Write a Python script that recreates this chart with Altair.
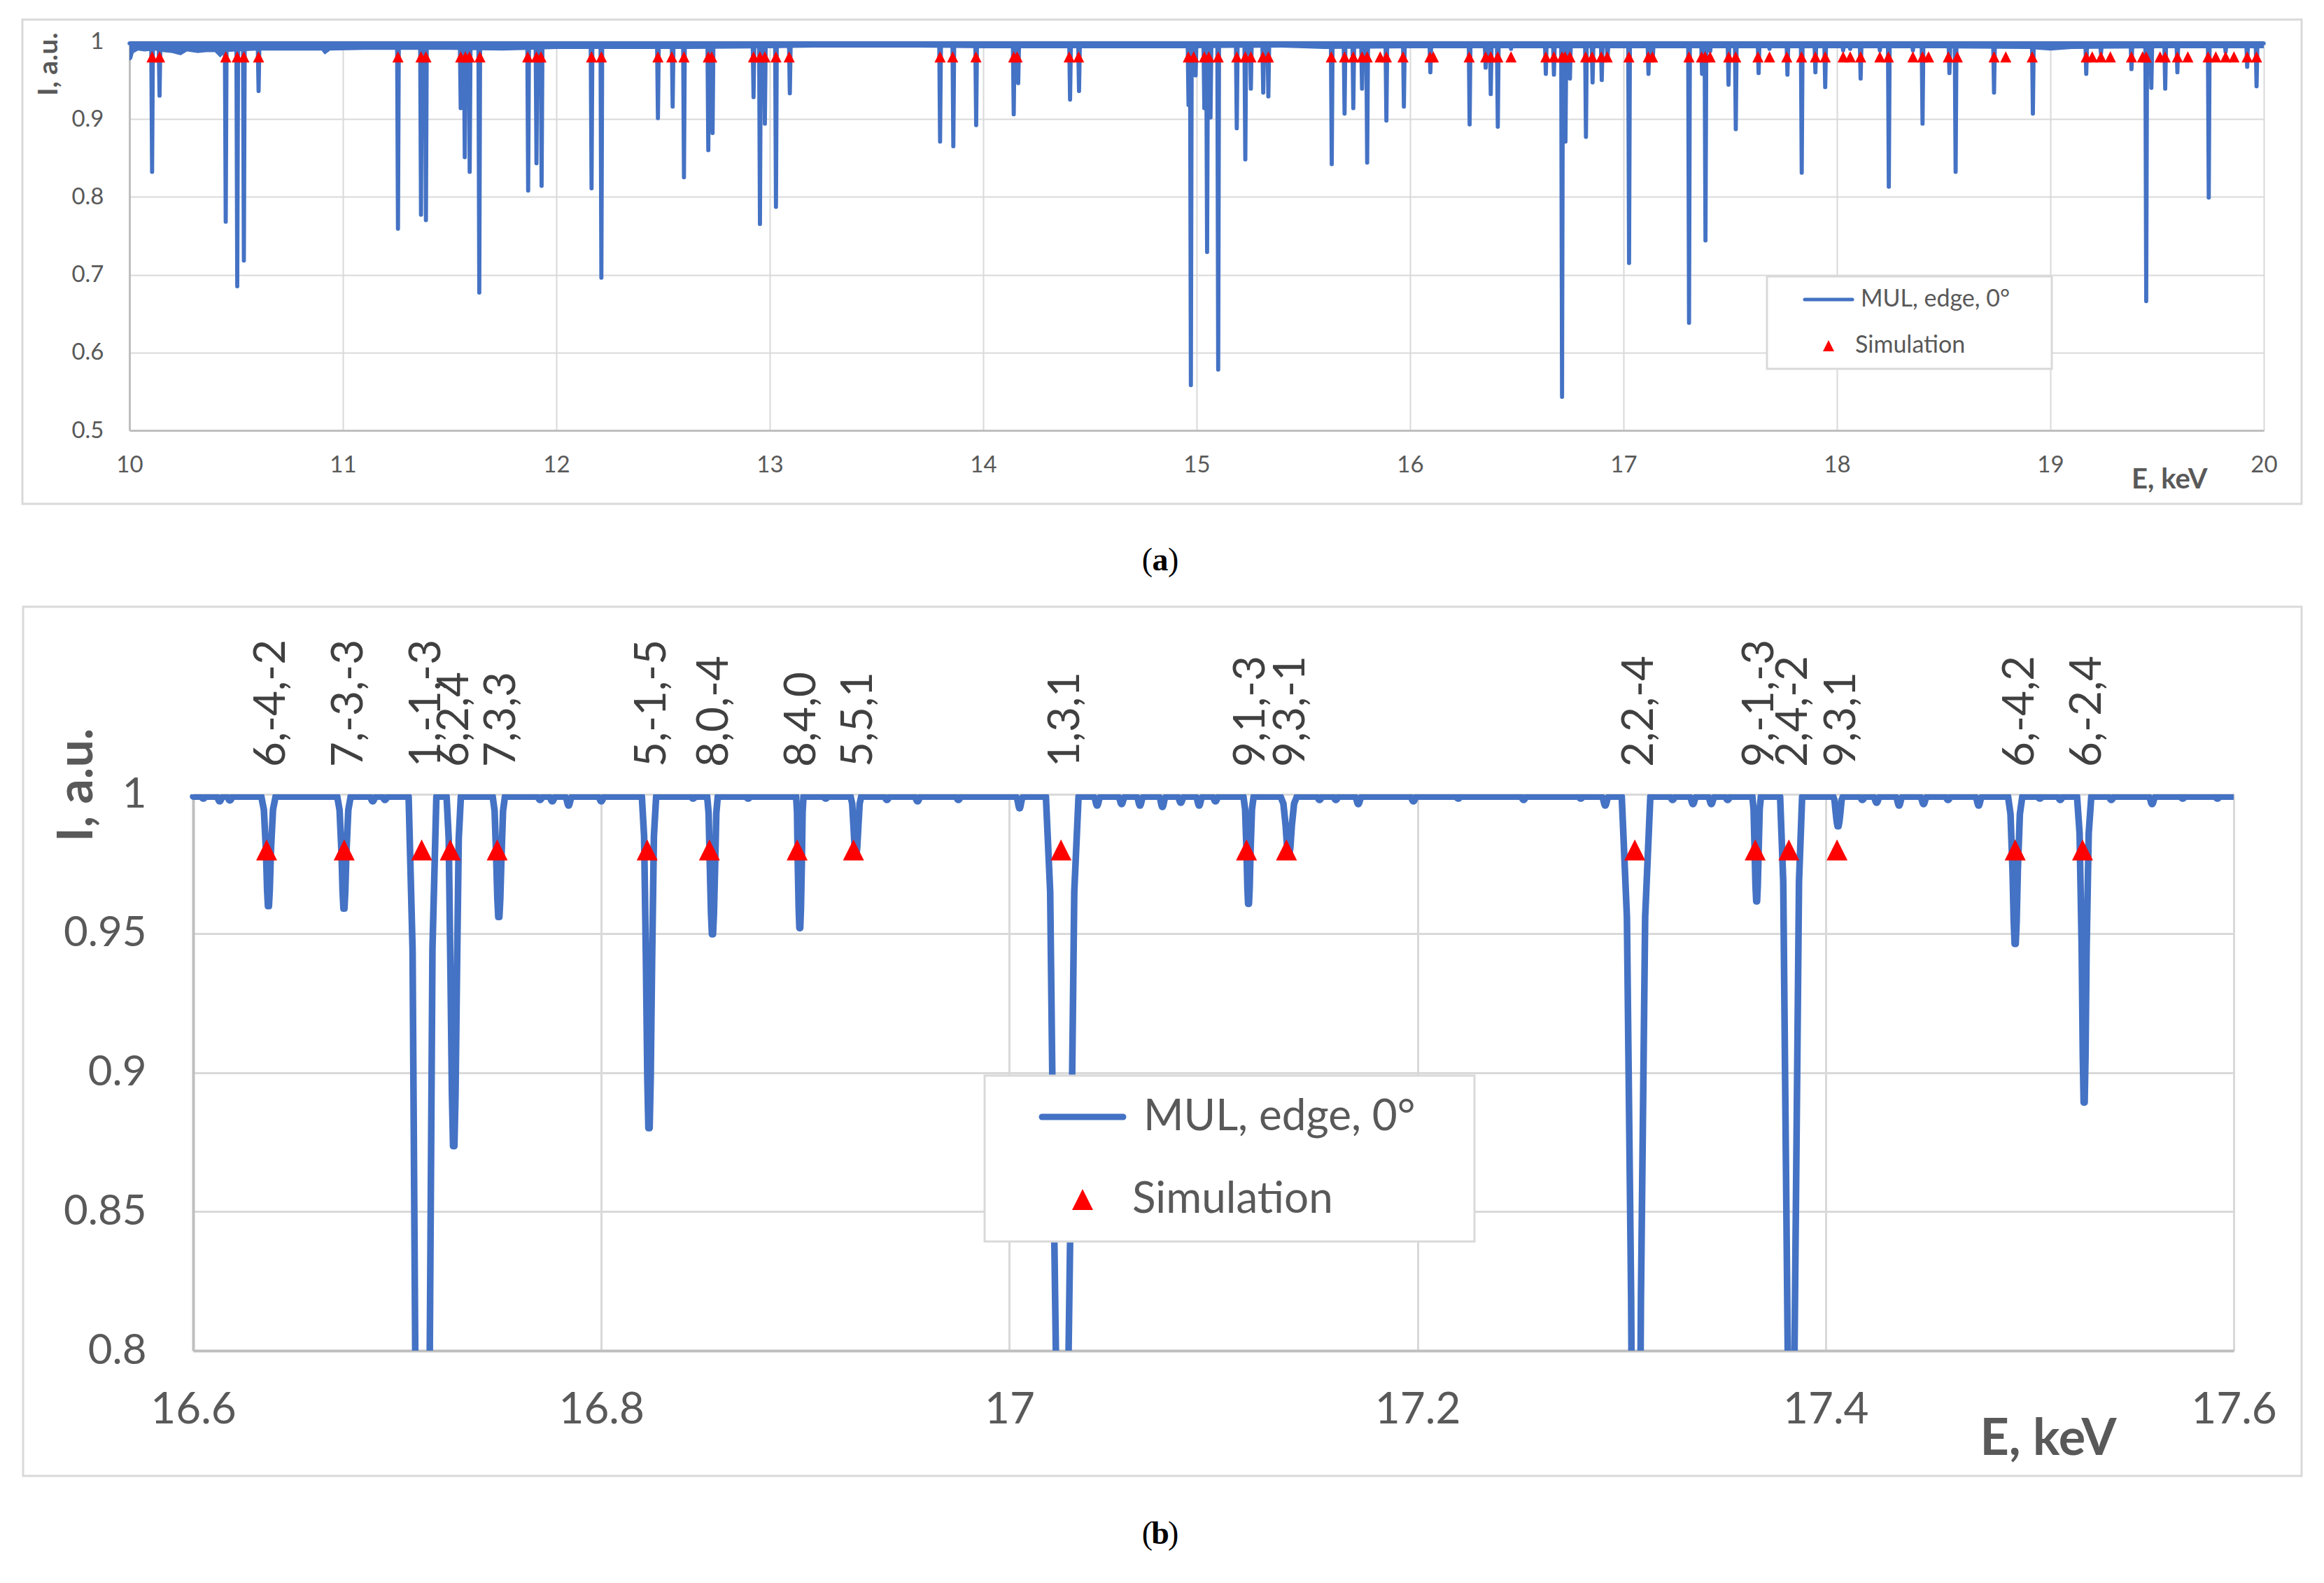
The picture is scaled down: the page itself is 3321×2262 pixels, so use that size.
import altair as alt
import pandas as pd

BLUE = "#4472C4"
RED = "#FF0000"
GRID = "#D9D9D9"
AXISC = "#BFBFBF"
TXT = "#595959"
LBL = "#404040"
FONT = "Lato"
SERIF = "Liberation Serif"
TRI = "M0,-1L1,1L-1,1Z"

# ---------------- panel (a): measured dips (energy keV, minimum intensity) -------------
a_dip_E = [10.106, 10.141, 10.451, 10.505, 10.536, 10.605, 11.258, 11.366, 11.389, 11.552,
           11.571, 11.594, 11.639, 11.868, 11.907, 11.931, 12.165, 12.211, 12.476, 12.545,
           12.598, 12.712, 12.732, 12.924, 12.954, 12.977, 13.029, 13.094, 13.798, 13.860,
           13.967, 14.143, 14.164, 14.407, 14.449, 14.962, 14.973, 14.995, 15.036, 15.049,
           15.065, 15.101, 15.188, 15.228, 15.254, 15.312, 15.336, 15.633, 15.693, 15.734,
           15.775, 15.799, 15.889, 15.971, 16.095, 16.279, 16.354, 16.378, 16.411, 16.473,
           16.636, 16.674, 16.712, 16.728, 16.749, 16.824, 16.855, 16.898, 16.925, 17.026,
           17.117, 17.137, 17.307, 17.368, 17.384, 17.406, 17.492, 17.526, 17.633, 17.684,
           17.768, 17.835, 17.899, 17.945, 18.029, 18.062, 18.111, 18.201, 18.243, 18.356,
           18.401, 18.527, 18.556, 18.736, 18.918, 19.168, 19.237, 19.380, 19.449, 19.473,
           19.538, 19.595, 19.742, 19.821, 19.922, 19.966]
a_dip_I = [0.832, 0.930, 0.768, 0.685, 0.718, 0.936, 0.759, 0.777, 0.770, 0.914,
           0.851, 0.832, 0.677, 0.808, 0.843, 0.814, 0.811, 0.696, 0.901, 0.916,
           0.825, 0.860, 0.882, 0.928, 0.765, 0.894, 0.787, 0.933, 0.871, 0.865,
           0.892, 0.906, 0.946, 0.925, 0.936, 0.918, 0.558, 0.956, 0.914, 0.729,
           0.902, 0.578, 0.888, 0.848, 0.939, 0.934, 0.929, 0.842, 0.907, 0.914,
           0.939, 0.844, 0.898, 0.916, 0.960, 0.893, 0.966, 0.932, 0.890, 0.990,
           0.958, 0.957, 0.543, 0.871, 0.952, 0.877, 0.947, 0.950, 0.977, 0.715,
           0.958, 0.977, 0.638, 0.958, 0.744, 0.987, 0.944, 0.887, 0.959, 0.990,
           0.957, 0.831, 0.960, 0.941, 0.988, 0.990, 0.952, 0.988, 0.813, 0.988,
           0.894, 0.959, 0.832, 0.934, 0.907, 0.958, 0.984, 0.964, 0.666, 0.940,
           0.939, 0.960, 0.799, 0.986, 0.967, 0.942]
assert len(a_dip_E) == len(a_dip_I)

# lower edge of the dense noise band under the 1.0 level (panel a)
a_env_E = [10.0, 10.012, 10.02, 10.04, 10.07, 10.12, 10.16, 10.2, 10.24, 10.27, 10.32, 10.36,
           10.40, 10.425, 10.45, 10.5, 10.6, 10.75, 10.9, 10.915, 10.94, 11.1, 11.3, 11.5,
           11.75, 12.0, 12.3, 12.6, 13.0, 13.2, 13.7, 14.0, 14.5, 15.0, 15.4, 15.6, 16.0,
           16.5, 17.0, 17.5, 18.0, 18.5, 18.9, 19.0, 19.1, 19.5, 20.0]
a_env_lo = [0.975, 0.977, 0.985, 0.988, 0.987, 0.988, 0.986, 0.985, 0.982, 0.987, 0.985, 0.986,
            0.986, 0.979, 0.986, 0.987, 0.988, 0.988, 0.988, 0.983, 0.988, 0.989, 0.989, 0.989,
            0.988, 0.990, 0.990, 0.990, 0.991, 0.992, 0.992, 0.991, 0.991, 0.991, 0.992, 0.990,
            0.991, 0.991, 0.991, 0.991, 0.991, 0.991, 0.990, 0.988, 0.990, 0.991, 0.991]

# simulated reflection energies (red triangles, drawn at I = 0.98)
sim_E = [10.106, 10.141, 10.451, 10.505, 10.536, 10.605, 11.258, 11.366, 11.389, 11.552,
         11.574, 11.593, 11.642, 11.866, 11.907, 11.928, 12.165, 12.211, 12.476, 12.541,
         12.598, 12.712, 12.728, 12.924, 12.954, 12.977, 13.029, 13.091, 13.798, 13.857,
         13.966, 14.143, 14.159, 14.403, 14.447, 14.961, 14.986, 15.036, 15.057, 15.101,
         15.188, 15.228, 15.254, 15.310, 15.336, 15.631, 15.693, 15.734, 15.775, 15.799,
         15.860, 15.889, 15.967, 16.093, 16.109, 16.277, 16.354, 16.378, 16.411, 16.473,
         16.636, 16.674, 16.712, 16.726, 16.749, 16.8225, 16.853, 16.896, 16.9236, 17.0253,
         17.1162, 17.1358, 17.3065, 17.3655, 17.382, 17.4056, 17.4929, 17.5259, 17.630, 17.684,
         17.765, 17.834, 17.899, 17.945, 18.029, 18.062, 18.111, 18.201, 18.241, 18.356,
         18.401, 18.429, 18.522, 18.564, 18.736, 18.791, 18.915, 19.168, 19.196, 19.237,
         19.281, 19.380, 19.432, 19.449, 19.514, 19.538, 19.595, 19.644, 19.739, 19.775,
         19.821, 19.860, 19.922, 19.966]
SIM_I = 0.98

# ---------------- panel (b): zoom 16.6 - 17.6 keV -------------
b_dip_E = [16.6369, 16.6739, 16.7124, 16.7277, 16.7498, 16.8234, 16.8545, 16.8973, 16.9248,
           17.0259, 17.1172, 17.1369, 17.3071, 17.3662, 17.3831, 17.4061, 17.4929, 17.5267]
b_dip_I = [0.9598, 0.9589, 0.543, 0.8735, 0.9559, 0.880, 0.9497, 0.9519, 0.978,
           0.715, 0.9606, 0.978, 0.638, 0.9615, 0.744, 0.9885, 0.9462, 0.8892]
b_dip_Wtop = [0.0035, 0.0033, 0.0068, 0.0035, 0.0030, 0.0035, 0.0026, 0.0018, 0.0026,
              0.0080, 0.0025, 0.0040, 0.0070, 0.0021, 0.0054, 0.0024, 0.0035, 0.0035]
b_dip_Whalf = [0.0012, 0.0012, 0.0033, 0.0016, 0.0013, 0.0015, 0.0013, 0.0010, 0.0012,
               0.0042, 0.0010, 0.0015, 0.0024, 0.0010, 0.0026, 0.0012, 0.0013, 0.0012]
b_noise_E = [16.605, 16.613, 16.618, 16.688, 16.694, 16.770, 16.776, 16.784, 16.800, 16.845,
             16.872, 16.910, 16.940, 16.955, 16.975, 17.005, 17.043, 17.055, 17.064, 17.075,
             17.084, 17.093, 17.101, 17.152, 17.160, 17.171, 17.198, 17.220, 17.252, 17.280,
             17.292, 17.325, 17.335, 17.344, 17.352, 17.418, 17.425, 17.436, 17.448, 17.460,
             17.475, 17.505, 17.515, 17.540, 17.560, 17.575, 17.592]
b_noise_I = [0.9985, 0.9975, 0.9978, 0.9975, 0.998, 0.998, 0.9975, 0.996, 0.9975, 0.9985,
             0.9985, 0.9985, 0.998, 0.9975, 0.998, 0.995, 0.996, 0.9965, 0.996, 0.9955,
             0.997, 0.996, 0.9975, 0.998, 0.998, 0.9965, 0.9975, 0.9985, 0.998, 0.9985,
             0.996, 0.998, 0.9965, 0.9965, 0.998, 0.998, 0.997, 0.996, 0.9965, 0.998,
             0.996, 0.9985, 0.998, 0.998, 0.9965, 0.9985, 0.9985]
hkl_label = ["6,-4,-2", "7,-3,-3", "1,-1,-3", "6,2,4", "7,3,3", "5,-1,-5", "8,0,-4", "8,4,0",
             "5,5,1", "1,3,1", "9,1,-3", "9,3,-1", "2,2,-4", "9,-1,-3", "2,4,-2", "9,3,1",
             "6,-4,2", "6,-2,4"]

SERIES = "MUL, edge, 0°"
SIMNAME = "Simulation"

# ---------------- build tables -------------
A_BASE = 0.9972
A_HW = 0.0045
rows = [(10.0, A_BASE)]
for e, i in sorted(zip(a_dip_E, a_dip_I)):
    rows += [(e - A_HW, A_BASE), (e - 0.0006, i), (e + 0.0006, i), (e + A_HW, A_BASE)]
rows.append((20.0, A_BASE))
a_line = pd.DataFrame(rows, columns=["E", "I"])
a_line["k"] = range(len(a_line))
a_env = pd.DataFrame({"E": a_env_E, "I": a_env_lo})
sim_df = pd.DataFrame({"E": sim_E, "I": [SIM_I] * len(sim_E)})

B_BASE = 0.9992
NOISE_WT, NOISE_WH = 0.0018, 0.0008
feats = [(e, i, wt, wh) for e, i, wt, wh in zip(b_dip_E, b_dip_I, b_dip_Wtop, b_dip_Whalf)]
feats += [(e, i, NOISE_WT, NOISE_WH) for e, i in zip(b_noise_E, b_noise_I)]
feats.sort()
rows = [(16.6, B_BASE)]
for e, i, wt, wh in feats:
    d = B_BASE - i
    prof = [(-wt, 0.0), (-(0.45 * wt + 0.55 * wh), 0.12), (-wh, 0.5), (-0.55 * wh, 0.85),
            (-0.2 * wh, 1.0), (0.2 * wh, 1.0), (0.55 * wh, 0.85), (wh, 0.5),
            (0.45 * wt + 0.55 * wh, 0.12), (wt, 0.0)]
    rows += [(e + dx, B_BASE - f * d) for dx, f in prof]
rows.append((17.6, B_BASE))
b_line = pd.DataFrame(rows, columns=["E", "I"])
b_line["k"] = range(len(b_line))
b_sim = sim_df[(sim_df.E >= 16.6) & (sim_df.E <= 17.6)].reset_index(drop=True).copy()
b_sim["lab"] = hkl_label

one = pd.DataFrame({"z": [0]})


def frame(x0, x1, y0, y1):
    return alt.Chart(one).mark_rect(fill="transparent", stroke=GRID, strokeWidth=3).encode(
        x=alt.value(x0), x2=alt.value(x1), y=alt.value(y0), y2=alt.value(y1))


def legend(box, line_pos, tri_pos, t1x, t2x, fs, lw, tsize):
    bx0, bx1, by0, by1 = box
    lx0, lx1, ly = line_pos
    tx, ty = tri_pos
    return [
        alt.Chart(one).mark_rect(fill="white", stroke=GRID, strokeWidth=3).encode(
            x=alt.value(bx0), x2=alt.value(bx1), y=alt.value(by0), y2=alt.value(by1)),
        alt.Chart(one).mark_rule(color=BLUE, strokeWidth=lw, strokeCap="round").encode(
            x=alt.value(lx0), x2=alt.value(lx1), y=alt.value(ly)),
        alt.Chart(one).mark_point(shape=TRI, filled=True, color=RED, size=tsize, opacity=1).encode(
            x=alt.value(tx), y=alt.value(ty)),
        alt.Chart(one).mark_text(align="left", baseline="middle", font=FONT, fontSize=fs, color=TXT).encode(
            x=alt.value(t1x), y=alt.value(ly), text=alt.value(SERIES)),
        alt.Chart(one).mark_text(align="left", baseline="middle", font=FONT, fontSize=fs, color=TXT).encode(
            x=alt.value(t2x), y=alt.value(ty), text=alt.value(SIMNAME)),
    ]


def caption(letter, cx, cy, fs):
    return [
        alt.Chart(one).mark_text(align="right", baseline="middle", font=SERIF, fontSize=fs, color="black").encode(
            x=alt.value(cx - 11), y=alt.value(cy), text=alt.value("(")),
        alt.Chart(one).mark_text(align="center", baseline="middle", font=SERIF, fontSize=fs, fontWeight="bold",
                                 color="black").encode(
            x=alt.value(cx), y=alt.value(cy), text=alt.value(letter)),
        alt.Chart(one).mark_text(align="left", baseline="middle", font=SERIF, fontSize=fs, color="black").encode(
            x=alt.value(cx + 11), y=alt.value(cy), text=alt.value(")")),
    ]


# ---------------- panel (a) -------------
AW, AH = 3050, 556
xa = alt.X("E:Q", scale=alt.Scale(domain=[10, 20], nice=False, zero=False),
           axis=alt.Axis(values=list(range(10, 21)), format=".2~f", title="E, keV",
                         titleX=2969, titleY=82, titleAlign="right", titleBaseline="alphabetic",
                         titleAngle=0, titleFont=FONT, titleFontSize=40, titleFontWeight="bold",
                         titleColor=TXT, labelFont=FONT, labelFontSize=33, labelColor=TXT,
                         labelPadding=33, labelFlush=False, labelOverlap=False, ticks=False,
                         domainColor=AXISC, domainWidth=3, gridColor=GRID, gridWidth=2))
ya = alt.Y("I:Q", scale=alt.Scale(domain=[0.5, 1.0], nice=False, zero=False),
           axis=alt.Axis(values=[0.5, 0.6, 0.7, 0.8, 0.9, 1.0], format=".2~f", title="I, a.u.",
                         titleX=-104, titleY=-13, titleAngle=270, titleAlign="right",
                         titleBaseline="alphabetic", titleFont=FONT, titleFontSize=39,
                         titleFontWeight="bold", titleColor=TXT, labelFont=FONT, labelFontSize=33,
                         labelColor=TXT, labelPadding=37, labelOverlap=False, ticks=False,
                         domainColor=AXISC, domainWidth=3, gridColor=GRID, gridWidth=2))

a_layers = [
    frame(-153, 3104, -31, 661),
    alt.Chart(one).mark_rect(opacity=0).encode(x=alt.value(0), x2=alt.value(1), y=alt.value(0), y2=alt.value(806)),
    alt.Chart(a_env).mark_area(color=BLUE, opacity=1).encode(x=xa, y=ya, y2=alt.datum(1.0)),
    alt.Chart(a_line).mark_line(color=BLUE, strokeWidth=5.5, strokeJoin="round", strokeCap="round").encode(
        x=xa, y=ya, order="k:Q"),
    alt.Chart(sim_df).mark_point(shape=TRI, filled=True, color=RED, size=256, opacity=1).encode(x=xa, y=ya),
]
a_layers += legend((2340, 2747, 336, 468), (2394, 2462, 369), (2428, 435), 2474, 2466, 34, 5, 256)
a_layers += caption("a", 1473, 742, 46)
panel_a = alt.layer(*a_layers).properties(width=AW, height=AH)

# ---------------- panel (b) -------------
# panel (b)'s plot area starts OFF px to the right of panel (a)'s
OFF = 91
BW, BH = 2916, 795
xb = alt.X("E:Q", scale=alt.Scale(domain=[16.6, 17.6], nice=False, zero=False, range=[OFF, OFF + BW]),
           axis=alt.Axis(values=[16.6, 16.8, 17.0, 17.2, 17.4, 17.6], format=".2~f", title="E, keV",
                         titleX=OFF + 2748, titleY=148, titleAlign="right", titleBaseline="alphabetic",
                         titleAngle=0, titleFont=FONT, titleFontSize=72, titleFontWeight="bold",
                         titleColor=TXT, labelFont=FONT, labelFontSize=62, labelColor=TXT,
                         labelPadding=54, labelFlush=False, labelOverlap=False, ticks=False,
                         domainColor=AXISC, domainWidth=4, gridColor=GRID, gridWidth=3))
yb = alt.Y("I:Q", scale=alt.Scale(domain=[0.8, 1.0], nice=False, zero=False),
           axis=alt.Axis(values=[0.8, 0.85, 0.9, 0.95, 1.0], format=".2~f", title="I, a.u.",
                         offset=-OFF,
                         titleX=-145, titleY=-95, titleAngle=270, titleAlign="right",
                         titleBaseline="alphabetic", titleFont=FONT, titleFontSize=70,
                         titleFontWeight="bold", titleColor=TXT, labelFont=FONT, labelFontSize=60,
                         labelColor=TXT, labelPadding=67, labelOverlap=False, ticks=False,
                         domainColor=AXISC, domainWidth=4, gridColor=GRID, gridWidth=3))

b_layers = [
    frame(OFF - 243, OFF + 3013, -268, 974),
    alt.Chart(b_line).mark_line(color=BLUE, strokeWidth=9.5, strokeJoin="round", strokeCap="round", clip=True).encode(
        x=xb, y=yb, order="k:Q"),
    alt.Chart(b_sim).mark_point(shape=TRI, filled=True, color=RED, size=900, opacity=1).encode(x=xb, y=yb),
    alt.Chart(b_sim).mark_text(angle=270, align="left", baseline="middle", font=FONT, fontSize=62,
                               color=LBL, dx=39, dy=7).encode(x=xb, y=alt.datum(1.0), text="lab:N"),
]
b_layers += legend((OFF + 1131, OFF + 1831, 402, 639), (OFF + 1213, OFF + 1329, 461), (OFF + 1271, 579),
                   OFF + 1358, OFF + 1342, 62, 9, 900)
b_layers += caption("b", OFF + 1382, 1057, 46)
panel_b = alt.layer(*b_layers).properties(width=OFF + BW, height=BH)

chart = alt.concat(panel_a, panel_b, columns=1, spacing=0).properties(
    padding={"left": 22, "top": 18, "right": 10, "bottom": 10},
    background="white",
).configure_view(stroke=None)

chart.save("out.html", embed_options={"renderer": "svg", "actions": False})
